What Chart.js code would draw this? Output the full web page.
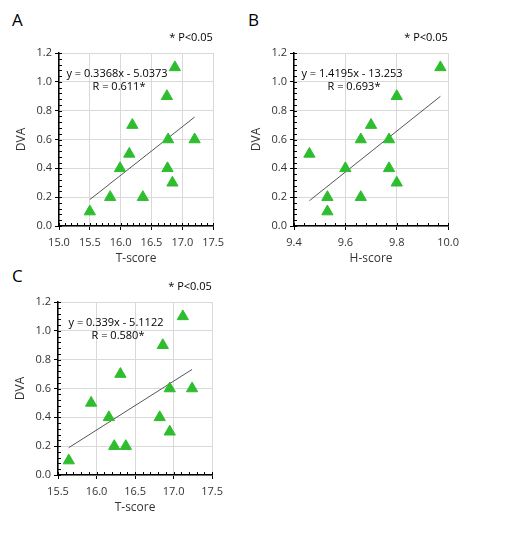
<!DOCTYPE html>
<html><head><meta charset="utf-8">
<script src="https://cdn.jsdelivr.net/npm/chart.js@4"></script>
<style>
body{margin:0;background:#fff;font-family:"Open Sans",Calibri,sans-serif;}
.lbl{position:absolute;font-size:17px;color:#000;}
.box{position:absolute;width:220px;height:240px;}
</style></head><body>
<div class="lbl" style="left:12px;top:8px">A</div>
<div class="lbl" style="left:248px;top:8px">B</div>
<div class="lbl" style="left:12px;top:264px">C</div>
<div class="box" style="left:10px;top:30px"><canvas id="cA"></canvas></div>
<div class="box" style="left:245px;top:30px"><canvas id="cB"></canvas></div>
<div class="box" style="left:9px;top:279px"><canvas id="cC"></canvas></div>
<script>
const tA = [15.50,15.83,15.99,16.14,16.19,16.36,16.75,16.77,16.76,16.84,16.88,17.20];
const dvaA = [0.1,0.2,0.4,0.5,0.7,0.2,0.9,0.6,0.4,0.3,1.1,0.6];
const hB = [9.46,9.53,9.53,9.60,9.66,9.66,9.70,9.77,9.77,9.80,9.80,9.97];
const dvaB = [0.5,0.2,0.1,0.4,0.6,0.2,0.7,0.6,0.4,0.9,0.3,1.1];
const tC = [15.64,15.93,16.16,16.23,16.31,16.38,16.82,16.86,16.95,16.95,17.12,17.24];
const dvaC = [0.1,0.5,0.4,0.2,0.7,0.2,0.4,0.9,0.6,0.3,1.1,0.6];
const fitA = [0.3368, -5.0373], fitB = [1.4195, -13.253], fitC = [0.339, -5.1122];
const yTicks = [0.0,0.2,0.4,0.6,0.8,1.0,1.2];

const fnt = {family:'"Open Sans", sans-serif', size:11};

function panel(id, xs, ys, fit, xmin, xmax, step, xTitle, eqText, rText) {
  const lo = Math.min(...xs), hi = Math.max(...xs);
  const notes = {
    id: 'notes',
    afterDraw(c) {
      const g = c.ctx, a = c.chartArea, sx = c.scales.x, sy = c.scales.y;
      g.save();
      g.fillStyle = '#000';
      g.font = '11px "Open Sans", sans-serif';
      g.textAlign = 'center';
      g.fillText(eqText, a.left + 58, a.top + 24);
      g.fillText(rText, a.left + 60, a.top + 37);
      g.fillText('* P<0.05', a.left + 132, a.top - 12);
      // minor ticks
      g.strokeStyle = '#000'; g.lineWidth = 1;
      for (let v = 0; v <= 1.2001; v += 0.04) {
        const p = Math.round(sy.getPixelForValue(v)) + 0.5;
        g.beginPath(); g.moveTo(a.left, p); g.lineTo(a.left + 3, p); g.stroke();
      }
      for (let v = xmin; v <= xmax + 1e-6; v += step / 5) {
        const p = Math.round(sx.getPixelForValue(v)) + 0.5;
        g.beginPath(); g.moveTo(p, a.bottom); g.lineTo(p, a.bottom - 3); g.stroke();
      }
      g.restore();
    }
  };
  new Chart(document.getElementById(id), {
    type: 'scatter',
    data: { datasets: [
      { data: xs.map((x, i) => ({x, y: ys[i]})), pointStyle: 'triangle', pointRadius: 6.5,
        backgroundColor: '#2ebd2e', borderColor: '#2ebd2e' },
      { type: 'line', data: [{x: lo, y: fit[0]*lo + fit[1]}, {x: hi, y: fit[0]*hi + fit[1]}],
        borderColor: '#555', borderWidth: 1, pointRadius: 0 }
    ]},
    options: {
      responsive: true, maintainAspectRatio: false, animation: false,
      layout: { padding: { top: 23, right: 14 } },
      plugins: { legend: { display: false }, tooltip: { enabled: false } },
      scales: {
        x: { min: xmin, max: xmax,
          afterFit(s) { s.height = 44; },
          ticks: { stepSize: step, color: '#333', font: fnt, callback: v => v.toFixed(1), padding: 6 },
          grid: { color: '#d9d9d9', drawTicks: true, tickLength: 4, tickColor: '#000' },
          border: { color: '#000', width: 1.5 },
          title: { display: true, text: xTitle, color: '#333', font: {family: fnt.family, size: 12}, padding: {top: 11} } },
        y: { min: 0, max: 1.2,
          afterFit(s) { s.width = 49; },
          afterBuildTicks(s) { s.ticks = yTicks.map(v => ({value: v})); },
          ticks: { color: '#333', font: fnt, callback: v => v.toFixed(1) },
          grid: { color: '#d9d9d9', tickLength: 4, tickColor: '#000' },
          border: { color: '#000', width: 1.5 },
          title: { display: true, text: 'DVA', color: '#333', font: {family: fnt.family, size: 12} } }
      }
    },
    plugins: [notes]
  });
}

panel('cA', tA, dvaA, fitA, 15.0, 17.5, 0.5, 'T-score', 'y = 0.3368x - 5.0373', 'R = 0.611*');
panel('cB', hB, dvaB, fitB, 9.4, 10.0, 0.2, 'H-score', 'y = 1.4195x - 13.253', 'R = 0.693*');
panel('cC', tC, dvaC, fitC, 15.5, 17.5, 0.5, 'T-score', 'y = 0.339x - 5.1122', 'R = 0.580*');
</script>
</body></html>
